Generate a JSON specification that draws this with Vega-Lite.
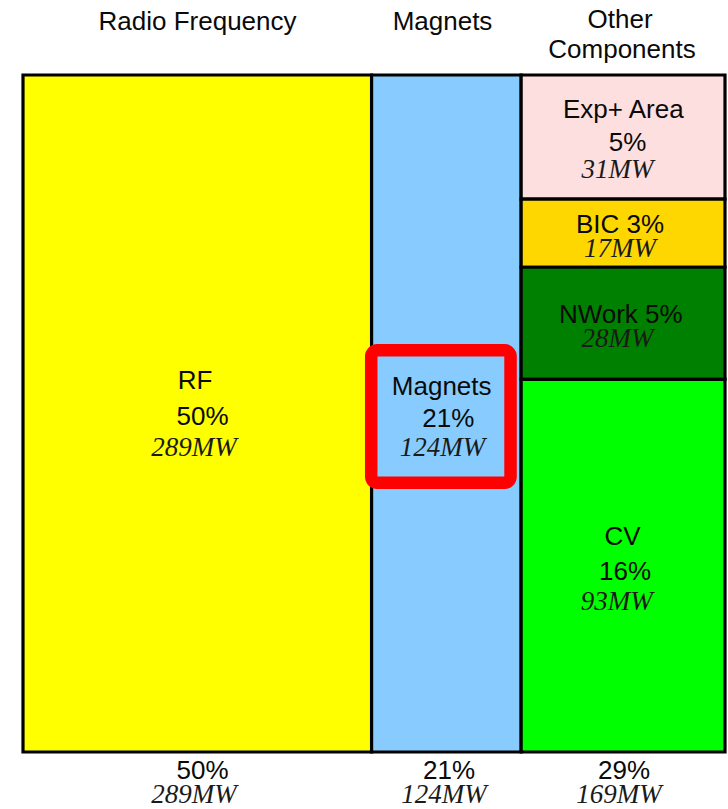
{
  "$schema": "https://vega.github.io/schema/vega-lite/v6.json",
  "width": 702,
  "height": 677,
  "autosize": {"type": "none"},
  "padding": {"left": 23, "top": 75, "right": 3, "bottom": 57},
  "background": "white",
  "config": {"view": {"stroke": null}},
  "datasets": {
    "cells": [
      {"name": "RF", "x0": 0, "x1": 289, "y0": 0, "y1": 1},
      {"name": "Magnets", "x0": 289, "x1": 413, "y0": 0, "y1": 1},
      {"name": "Exp+ Area", "x0": 413, "x1": 582, "y0": 0, "y1": 0.1834},
      {"name": "BIC", "x0": 413, "x1": 582, "y0": 0.1834, "y1": 0.284},
      {"name": "NWork", "x0": 413, "x1": 582, "y0": 0.284, "y1": 0.4497},
      {"name": "CV", "x0": 413, "x1": 582, "y0": 0.4497, "y1": 1}
    ],
    "highlight": [
      {"item": "Magnets", "x0": 288.7, "x1": 404.2, "y0": 0.4067, "y1": 0.6024}
    ],
    "labels": [
      {"text": "Radio Frequency", "kind": "head", "x": 144.7, "y": -0.0665},
      {"text": "Magnets", "kind": "head", "x": 347.8, "y": -0.0665},
      {"text": "Other", "kind": "head", "x": 495.0, "y": -0.0694},
      {"text": "Components", "kind": "head", "x": 496.6, "y": -0.0247},
      {"text": "RF", "kind": "name", "x": 142.6, "y": 0.4638},
      {"text": "50%", "kind": "pct", "x": 148.8, "y": 0.517},
      {"text": "289MW", "kind": "mw", "x": 141.8, "y": 0.5628},
      {"text": "Magnets", "kind": "name", "x": 347.1, "y": 0.4727},
      {"text": "21%", "kind": "pct", "x": 352.6, "y": 0.5195},
      {"text": "124MW", "kind": "mw", "x": 347.8, "y": 0.5628},
      {"text": "Exp+ Area", "kind": "name", "x": 497.7, "y": 0.064},
      {"text": "5%", "kind": "pct", "x": 501.2, "y": 0.1118},
      {"text": "31MW", "kind": "mw", "x": 492.9, "y": 0.1526},
      {"text": "BIC 3%", "kind": "name", "x": 495.0, "y": 0.2338},
      {"text": "17MW", "kind": "mw", "x": 495.0, "y": 0.2684},
      {"text": "NWork 5%", "kind": "name", "x": 495.6, "y": 0.3668},
      {"text": "28MW", "kind": "mw", "x": 492.9, "y": 0.4013},
      {"text": "CV", "kind": "name", "x": 497.0, "y": 0.6942},
      {"text": "16%", "kind": "pct", "x": 499.1, "y": 0.7459},
      {"text": "93MW", "kind": "mw", "x": 492.2, "y": 0.7903},
      {"text": "50%", "kind": "pct", "x": 148.8, "y": 1.0399},
      {"text": "289MW", "kind": "mw", "x": 141.8, "y": 1.0754},
      {"text": "21%", "kind": "pct", "x": 353.2, "y": 1.0399},
      {"text": "124MW", "kind": "mw", "x": 349.0, "y": 1.0754},
      {"text": "29%", "kind": "pct", "x": 498.3, "y": 1.0399},
      {"text": "169MW", "kind": "mw", "x": 494.1, "y": 1.0754}
    ]
  },
  "layer": [
    {
      "data": {"name": "cells"},
      "mark": {"type": "rect", "stroke": "#000000", "strokeWidth": 3.2},
      "encoding": {
        "x": {"field": "x0", "type": "quantitative", "scale": {"domain": [0, 582], "nice": false, "zero": false}, "axis": null},
        "x2": {"field": "x1"},
        "y": {"field": "y0", "type": "quantitative", "scale": {"domain": [0, 1], "nice": false, "zero": false, "reverse": true}, "axis": null},
        "y2": {"field": "y1"},
        "color": {
          "field": "name",
          "type": "nominal",
          "scale": {
            "domain": ["RF", "Magnets", "Exp+ Area", "BIC", "NWork", "CV"],
            "range": ["#FFFF00", "#88CCFF", "#FDDFDF", "#FFD700", "#008000", "#00FF00"]
          },
          "legend": null
        }
      }
    },
    {
      "data": {"name": "highlight"},
      "mark": {"type": "rect", "filled": false, "stroke": "#FF0000", "strokeWidth": 12.5, "cornerRadius": 6, "strokeJoin": "round"},
      "encoding": {
        "x": {"field": "x0", "type": "quantitative"},
        "x2": {"field": "x1"},
        "y": {"field": "y0", "type": "quantitative"},
        "y2": {"field": "y1"}
      }
    },
    {
      "data": {"name": "labels"},
      "transform": [{"filter": {"field": "kind", "oneOf": ["head", "name", "pct"]}}],
      "mark": {"type": "text", "align": "center", "baseline": "alphabetic", "font": "Liberation Sans", "fontSize": 26, "color": "#0a0a0a"},
      "encoding": {
        "x": {"field": "x", "type": "quantitative"},
        "y": {"field": "y", "type": "quantitative"},
        "text": {"field": "text", "type": "nominal"}
      }
    },
    {
      "data": {"name": "labels"},
      "transform": [{"filter": {"field": "kind", "equal": "mw"}}],
      "mark": {"type": "text", "align": "center", "baseline": "alphabetic", "font": "Liberation Serif", "fontStyle": "italic", "fontSize": 27, "color": "#1a1a1a"},
      "encoding": {
        "x": {"field": "x", "type": "quantitative"},
        "y": {"field": "y", "type": "quantitative"},
        "text": {"field": "text", "type": "nominal"}
      }
    }
  ]
}
